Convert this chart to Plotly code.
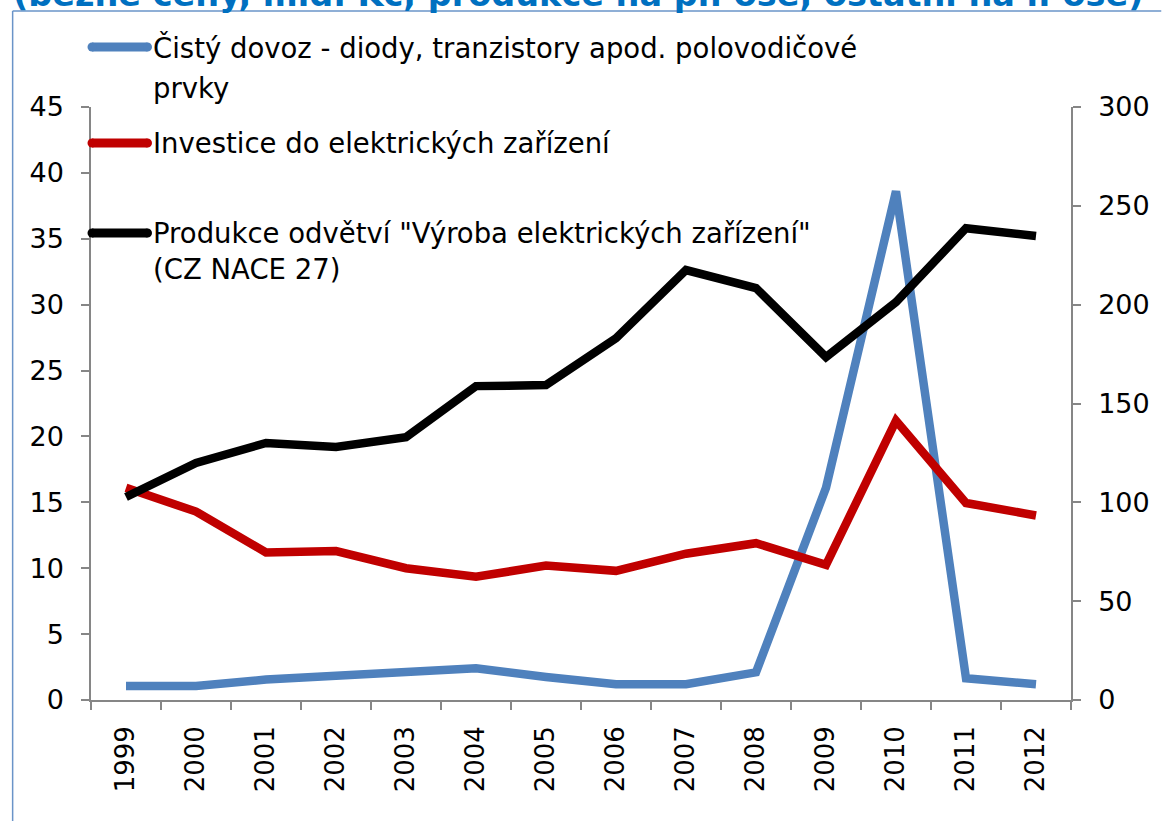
import plotly.graph_objects as go

years = ["1999", "2000", "2001", "2002", "2003", "2004", "2005",
         "2006", "2007", "2008", "2009", "2010", "2011", "2012"]
dovoz = [1.07, 1.07, 1.55, 1.8, 2.0, 2.4, 1.75, 1.2, 1.2, 2.1, 16.1, 38.6, 1.65, 1.2]
investice = [16.1, 14.3, 11.2, 11.3, 10.0, 9.35, 10.2, 9.8, 11.1, 11.9, 10.25, 21.2, 14.95, 14.0]
produkce = [102.7, 119.9, 130.0, 128.0, 133.0, 158.8, 159.3, 183.0, 217.5, 208.4, 173.5, 201.3, 238.7, 234.7]

names = ["Čistý dovoz - diody, tranzistory apod. polovodičové<br>prvky",
         "Investice do elektrických zařízení",
         "Produkce odvětví \"Výroba elektrických zařízení\"<br>(CZ NACE 27)"]
colors = ["#4F81BD", "#C00000", "#000000"]
title_text = "(běžné ceny, mld. Kč, produkce na pr. ose, ostatní na l. ose)"

FONT = "DejaVu Sans, Arial, sans-serif"
AX = "#868686"

fig = go.Figure()
fig.add_trace(go.Scatter(x=years, y=dovoz, name=names[0], mode="lines",
                         line=dict(color=colors[0], width=8.5), yaxis="y"))
fig.add_trace(go.Scatter(x=years, y=investice, name=names[1], mode="lines",
                         line=dict(color=colors[1], width=8.5), yaxis="y"))
fig.add_trace(go.Scatter(x=years, y=produkce, name=names[2], mode="lines",
                         line=dict(color=colors[2], width=8.5), yaxis="y2"))

L, R, T, B = 91, 83, 107, 121
W, H = 1162, 821
pw, ph = W - L - R, H - T - B

def px(xp):
    return (xp - L) / pw

def py(yp):
    return 1 + (T - yp) / ph

shapes = []
annotations = []
# outer blue frame (left and top edges visible)
shapes.append(dict(type="line", xref="paper", yref="paper", x0=px(12), x1=px(1170),
                   y0=py(11), y1=py(11), line=dict(color="#6A94C8", width=1.5)))
shapes.append(dict(type="line", xref="paper", yref="paper", x0=px(12), x1=px(12),
                   y0=py(11), y1=py(830), line=dict(color="#6A94C8", width=1.5)))

# manual legend
leg_rows = [(47, [(names[0].split("<br>")[0], 47), ("prvky", 88)]),
            (143, [(names[1], 143)]),
            (233, [(names[2].split("<br>")[0], 233), ("(CZ NACE 27)", 269)])]
for (sy, lines), c in zip(leg_rows, colors):
    shapes.append(dict(type="line", xref="paper", yref="paper", x0=px(92), x1=px(148),
                       y0=py(sy), y1=py(sy), line=dict(color=c, width=9)))
    shapes.append(dict(type="circle", xref="paper", yref="paper", x0=px(87.5), x1=px(96.5),
                       y0=py(sy + 4.5), y1=py(sy - 4.5), line=dict(width=0), fillcolor=c))
    shapes.append(dict(type="circle", xref="paper", yref="paper", x0=px(143.5), x1=px(152.5),
                       y0=py(sy + 4.5), y1=py(sy - 4.5), line=dict(width=0), fillcolor=c))
    for txt, ty in lines:
        annotations.append(dict(text=txt, xref="paper", yref="paper", x=px(151), y=py(ty),
                                xanchor="left", yanchor="middle", showarrow=False,
                                font=dict(family=FONT, size=27.5, color="#000000")))

annotations.append(dict(text="<b>" + title_text + "</b>", xref="paper", yref="paper",
                        x=px(10), y=py(-5), xanchor="left", yanchor="middle", showarrow=False,
                        font=dict(family=FONT, size=33.5, color="#0070C0")))

fig.update_layout(
    width=W, height=H,
    margin=dict(l=L, r=R, t=T, b=B),
    paper_bgcolor="white", plot_bgcolor="white",
    showlegend=False,
    font=dict(family=FONT, color="#000000"),
    xaxis=dict(type="category", tickson="boundaries", ticks="outside", ticklen=8,
               tickcolor=AX, tickwidth=1.5, showline=True, linecolor=AX, linewidth=1.5,
               showgrid=False, tickangle=-90, tickfont=dict(size=26, color="#000000"),
               ticklabelstandoff=14, range=[-0.5, 13.5], zeroline=False),
    yaxis=dict(range=[0, 45], dtick=5, ticks="outside", ticklen=8, tickcolor=AX,
               tickwidth=1.5, showline=True, linecolor=AX, linewidth=1.5, showgrid=False,
               zeroline=False, ticklabelstandoff=12, tickfont=dict(size=27, color="#000000")),
    yaxis2=dict(range=[0, 300], dtick=50, overlaying="y", side="right", ticks="outside",
                ticklen=8, tickcolor=AX, tickwidth=1.5, showline=True, linecolor=AX,
                linewidth=1.5, showgrid=False, zeroline=False, ticklabelstandoff=12,
                tickfont=dict(size=27, color="#000000")),
    shapes=shapes,
    annotations=annotations,
)

fig.write_html("out.html", config={"displayModeBar": False},
               post_script="document.body.style.margin='0';document.body.style.overflow='hidden';")
